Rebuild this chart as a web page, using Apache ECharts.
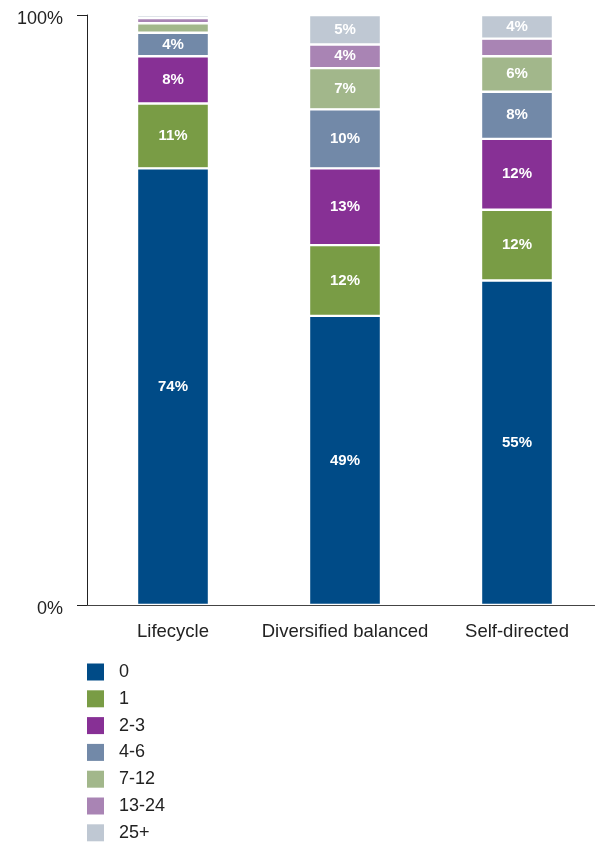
<!DOCTYPE html>
<html>
<head>
<meta charset="utf-8">
<script src="https://cdn.jsdelivr.net/npm/echarts@6/dist/echarts.min.js"></script>
<style>
  html, body { margin: 0; padding: 0; background: #fff; }
  #chart { width: 595px; height: 844px; }
</style>
</head>
<body>
<div id="chart"></div>
<script>
// Share of participants by number of trades, per investment approach
const categories = ['Lifecycle', 'Diversified balanced', 'Self-directed'];
const groups = ['0', '1', '2-3', '4-6', '7-12', '13-24', '25+'];

const trades0     = [74, 49, 55];
const trades1     = [11, 12, 12];
const trades2to3  = [8, 13, 12];
const trades4to6  = [4, 10, 8];
const trades7to12 = [1.6, 7, 6];
const trades13to24 = [0.9, 4, 3];
const trades25plus = [0.5, 5, 4];

const yTicks = [0, 100];

const seriesValues = [trades0, trades1, trades2to3, trades4to6, trades7to12, trades13to24, trades25plus];
const colors = ['#004b87', '#799c45', '#873095', '#7289a8', '#a2b78b', '#a984b4', '#bfc8d3'];

const textFont = '"Liberation Sans", Arial, sans-serif';

const chart = echarts.init(document.getElementById('chart'), null, { renderer: 'canvas' });

chart.setOption({
  animation: false,
  backgroundColor: '#ffffff',
  color: colors,
  grid: {
    left: 87, width: 516, top: 15, bottom: 239,
    containLabel: false,
    outerBoundsMode: 'none'
  },
  legend: {
    orient: 'vertical',
    left: 87,
    top: 663,
    height: 200,
    padding: 0,
    icon: 'rect',
    itemWidth: 17,
    itemHeight: 17,
    itemGap: 8.8,
    itemStyle: { borderWidth: 0 },
    data: groups,
    textStyle: {
      fontFamily: textFont,
      fontSize: 18,
      color: '#222',
      lineHeight: 17,
      padding: [0, 0, 0, 10]
    }
  },
  xAxis: {
    type: 'category',
    data: categories,
    axisLine: { show: true, lineStyle: { color: '#444', width: 1 } },
    axisTick: { show: false },
    axisLabel: {
      interval: 0,
      margin: 17,
      fontFamily: textFont,
      fontSize: 18.5,
      color: '#222'
    }
  },
  yAxis: {
    type: 'value',
    min: yTicks[0],
    max: yTicks[1],
    interval: yTicks[1] - yTicks[0],
    axisLine: { show: true, lineStyle: { color: '#222', width: 1 } },
    axisTick: { show: true, inside: false, length: 10, lineStyle: { color: '#222', width: 1 } },
    splitLine: { show: false },
    axisLabel: {
      margin: 24,
      fontFamily: textFont,
      fontSize: 18,
      color: '#222',
      verticalAlign: 'top',
      lineHeight: 9,
      formatter: v => v + '%'
    }
  },
  series: groups.map((name, i) => ({
    name: name,
    type: 'bar',
    stack: 'total',
    barWidth: 72,
    data: seriesValues[i],
    itemStyle: { color: colors[i], borderColor: '#ffffff', borderWidth: 1.2 },
    label: {
      show: true,
      position: 'inside',
      fontFamily: textFont,
      fontWeight: 'bold',
      fontSize: 15,
      color: '#ffffff',
      formatter: p => (p.value >= 3.5 ? Math.round(p.value) + '%' : '')
    }
  }))
});
</script>
</body>
</html>
